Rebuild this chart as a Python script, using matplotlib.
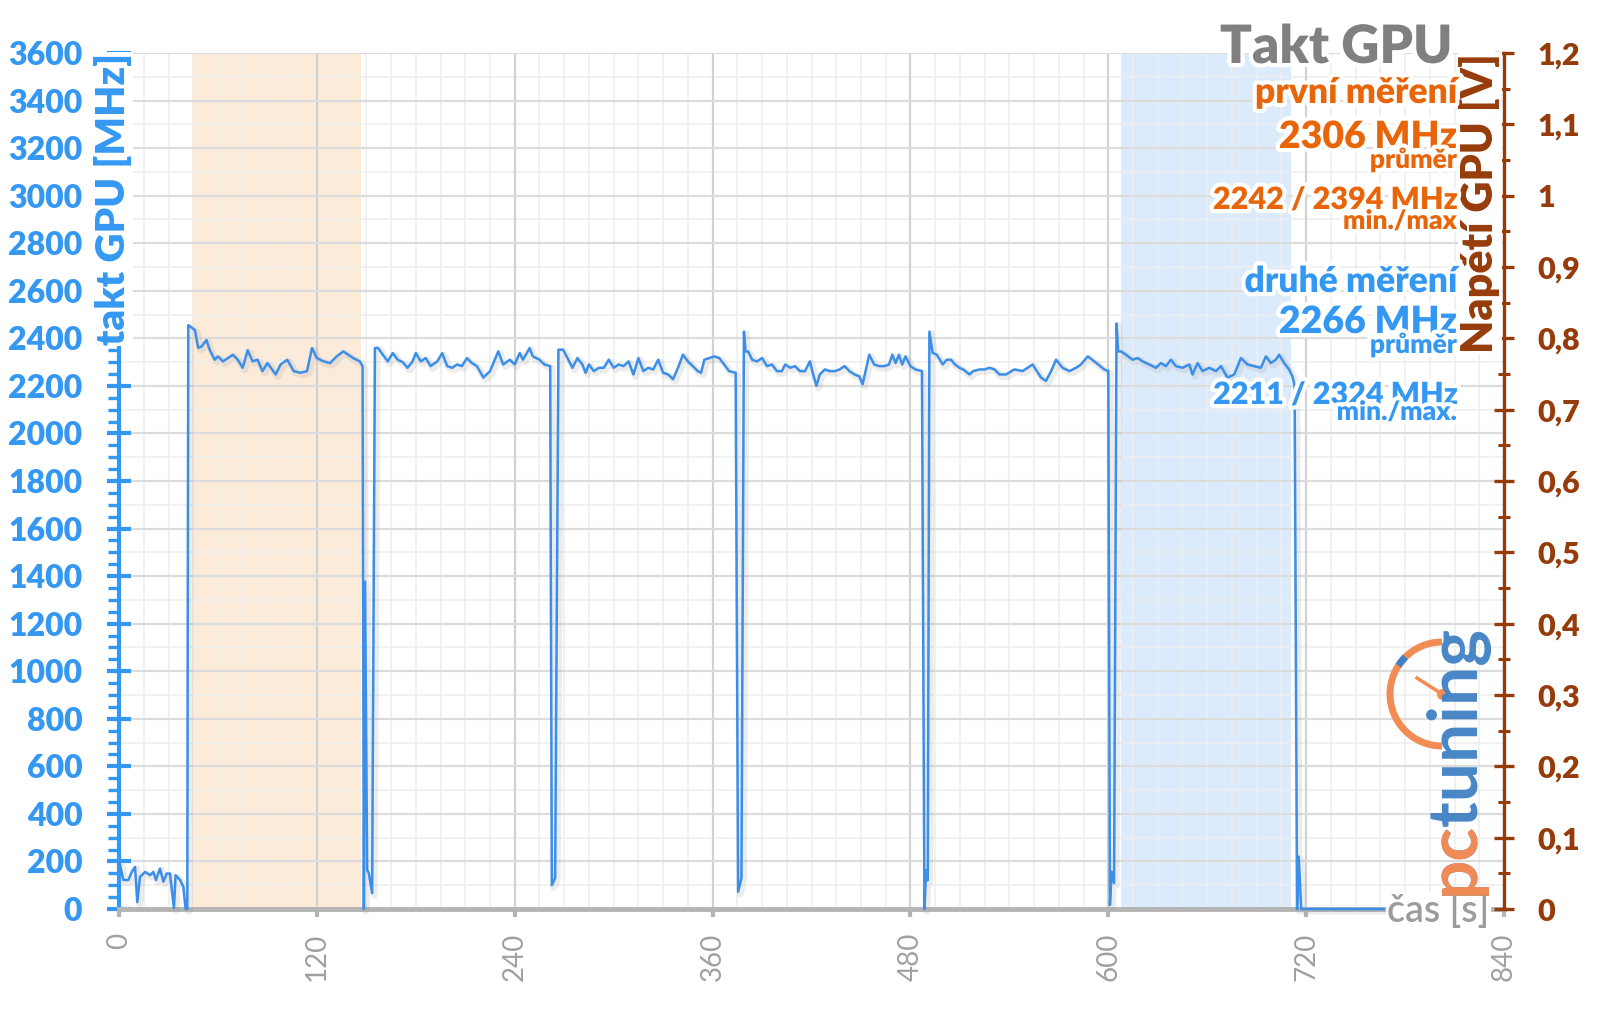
import numpy as np
import matplotlib
matplotlib.use("Agg")
import matplotlib.pyplot as plt
import matplotlib.patheffects as pe
from matplotlib.ticker import MultipleLocator, FuncFormatter
from matplotlib.patches import Arc
from matplotlib.lines import Line2D

plt.rcParams['font.family'] = ['Lato', 'DejaVu Sans']

# --- data (time in s, GPU clock in MHz) ---
idle_t = [0, 0.6, 2.6, 5.7, 7.7, 9.7, 11.1, 12.7, 15.8, 18.8, 20.8, 22.4, 24.8, 26.9,
          28.9, 30.9, 33.3, 34.3, 37, 39, 40.4, 41.4]
idle_mhz = [190, 185, 122, 122, 156, 177, 29, 135, 156, 142, 156, 122, 170, 115,
            149, 149, 4, 142, 122, 94, 0, 0]

run1_t = [42, 43, 46, 48, 50, 53, 55, 58, 60, 63, 66, 69, 72, 75, 78, 81, 84, 87, 90, 95,
          98, 102, 106, 110, 114, 117, 120, 124, 128, 132, 136, 139, 142, 146, 147.7]
run1_mhz = [2455, 2450, 2435, 2360, 2365, 2393, 2352, 2310, 2324, 2303, 2317, 2331, 2310,
            2276, 2350, 2303, 2310, 2262, 2296, 2248, 2290, 2310, 2262, 2255, 2262, 2359,
            2317, 2303, 2296, 2324, 2345, 2331, 2317, 2303, 2283]

dip1_t = [148.5, 149.2, 150.5, 151.5, 153.5]
dip1_mhz = [0, 1376, 164, 150, 67]

run2_t = [155.2, 157, 160, 163, 166, 169, 172, 175, 178, 180, 183, 186, 189, 193, 196, 199,
          202, 205, 208, 211, 214, 217, 221, 225, 230, 233, 237, 240, 243, 245, 249, 251,
          255, 258, 261.5]
run2_mhz = [2359, 2360, 2331, 2303, 2338, 2310, 2300, 2276, 2303, 2338, 2303, 2317, 2283,
            2303, 2338, 2283, 2276, 2290, 2283, 2317, 2296, 2283, 2235, 2262, 2345, 2290,
            2310, 2290, 2338, 2310, 2359, 2324, 2310, 2290, 2283]

dip2_t = [262.5, 264.5]
dip2_mhz = [100, 130]

run3_t = [266.5, 269.3, 272, 275, 278, 281, 283, 285, 288, 291, 294, 297, 300, 303, 306, 309,
          312, 315, 318, 321, 324, 327, 330, 333, 336, 339, 342, 345, 348, 351, 353, 355,
          358, 361, 364, 367, 370, 374]
run3_mhz = [2352, 2352, 2317, 2276, 2317, 2290, 2255, 2290, 2262, 2276, 2276, 2310, 2276,
            2290, 2283, 2303, 2248, 2317, 2262, 2276, 2269, 2310, 2255, 2248, 2228, 2276,
            2331, 2303, 2283, 2262, 2255, 2310, 2317, 2324, 2317, 2290, 2262, 2255]

dip3_t = [375.5, 377.5]
dip3_mhz = [73, 130]

run4_t = [379, 380, 381.5, 384, 387, 390, 393, 396, 399, 402, 404, 407, 410, 413, 416, 419,
          421, 423, 425, 428, 431, 434, 437, 440, 443, 446, 449, 451, 453, 455, 458, 461,
          464, 467, 469, 471, 473, 475, 477, 480, 483, 487]
run4_mhz = [2428, 2345, 2345, 2310, 2303, 2317, 2283, 2290, 2262, 2262, 2290, 2276, 2283,
            2262, 2262, 2303, 2248, 2200, 2248, 2269, 2262, 2262, 2269, 2283, 2262, 2248,
            2240, 2207, 2269, 2331, 2290, 2283, 2283, 2290, 2331, 2296, 2331, 2290, 2324,
            2283, 2269, 2262]

dip4_t = [488.5, 489.5, 490.5]
dip4_mhz = [0, 164, 120]

run5_t = [491.5, 493.5, 496, 499.6, 502, 504.6, 507, 509.7, 512, 515.8, 518, 521.8, 525,
          527.9, 531, 533.9, 538, 543, 548, 551, 554.1, 559.2, 562.2, 565.3, 568.3, 572.3,
          576.4, 580.4, 583.4, 587.5, 591.5, 597.6, 600]
run5_mhz = [2428, 2338, 2331, 2290, 2310, 2310, 2290, 2276, 2269, 2248, 2262, 2269, 2269,
            2276, 2269, 2248, 2248, 2269, 2262, 2276, 2290, 2235, 2221, 2262, 2310, 2276,
            2262, 2276, 2290, 2324, 2303, 2269, 2262]

dip5_t = [601, 602, 603.5]
dip5_mhz = [17, 157, 109]

run6_t = [605, 606, 607.7, 610.7, 614.7, 617.8, 620.8, 624.8, 628.9, 631.9, 634.9, 638, 641,
          645, 649.1, 651.1, 654.1, 657.2, 661.2, 665.3, 668.3, 672.3, 676.4, 680.4, 684.4,
          688.5, 692.5, 695.6, 698.6, 701.6, 703.6, 706.7, 709.7, 711.7, 713]
run6_mhz = [2462, 2345, 2345, 2331, 2310, 2317, 2303, 2290, 2276, 2296, 2283, 2310, 2283,
            2276, 2290, 2248, 2296, 2262, 2276, 2262, 2283, 2235, 2248, 2317, 2290, 2283,
            2276, 2324, 2296, 2310, 2331, 2296, 2269, 2240, 2200]

tail_t = [714.5, 715.5, 717, 767]
tail_mhz = [0, 220, 0, 0]

time_s = np.concatenate([idle_t, run1_t, dip1_t, run2_t, dip2_t, run3_t, dip3_t,
                         run4_t, dip4_t, run5_t, dip5_t, run6_t, tail_t])
clock_mhz = np.concatenate([idle_mhz, run1_mhz, dip1_mhz, run2_mhz, dip2_mhz, run3_mhz,
                            dip3_mhz, run4_mhz, dip4_mhz, run5_mhz, dip5_mhz, run6_mhz,
                            tail_mhz])

first_window = (44, 147)
second_window = (608, 711)
first_stats = (2306, 2242, 2394)   # avg, min, max
second_stats = (2266, 2211, 2324)

BLUE = '#3498F2'
LINE = '#3B8FE8'
ORANGE = '#E8650A'
BROWN = '#963C0A'
GRAY = '#A0A0A0'
HEAVY = 'heavy'

fig = plt.figure(figsize=(16, 10.09), dpi=100)
ax = fig.add_axes([0.0744, 0.0991, 0.8656, 0.8484])
ax2 = ax.twinx()

ax.set_xlim(0, 840)
ax.set_ylim(0, 3600)
ax2.set_ylim(0, 1.2)

# shaded measuring windows
ax.axvspan(*first_window, color='#FDEBDA', zorder=0.3, lw=0)
ax.axvspan(*second_window, color='#DCEBFB', zorder=0.3, lw=0)

# grid
ax.set_axisbelow(True)
ax.xaxis.set_major_locator(MultipleLocator(120))
ax.xaxis.set_minor_locator(MultipleLocator(15))
ax.yaxis.set_major_locator(MultipleLocator(200))
ax.yaxis.set_minor_locator(MultipleLocator(50))
ax.grid(which='major', axis='y', color='#DCDCDC', lw=1.6, zorder=0.5)
ax.grid(which='major', axis='x', color='#D2D2D2', lw=1.6, zorder=0.5)
ax.grid(which='minor', axis='x', color='#EEEEEE', lw=1.1, zorder=0.45)
for yv in np.arange(100, 3600, 200):
    ax.axhline(yv, color='#EEEEEE', lw=1.1, zorder=0.45)

ax.plot(time_s, clock_mhz, color=LINE, lw=1.8, zorder=3, clip_on=False,
        path_effects=[pe.SimpleLineShadow(offset=(1.5, -1.5), shadow_color='#9a9a9a',
                                          alpha=0.18, linewidth=5), pe.Normal()])

# spines
for s in ['top', 'right']:
    ax.spines[s].set_visible(False)
for s in ['top', 'left', 'bottom']:
    ax2.spines[s].set_visible(False)
ax.spines['left'].set_color(BLUE)
ax.spines['left'].set_linewidth(3)
ax.spines['bottom'].set_color('#B4B4B4')
ax.spines['bottom'].set_linewidth(3.5)
ax2.spines['right'].set_color(BROWN)
ax2.spines['right'].set_linewidth(2.4)

# left axis ticks
ax.tick_params(axis='y', which='major', direction='inout', length=17, width=3,
               color=BLUE, labelcolor=BLUE, labelsize=23, pad=18)
ax.tick_params(axis='y', which='minor', direction='out', length=8, width=2.4, color=BLUE)
for lab in ax.get_yticklabels():
    lab.set_fontweight(HEAVY)

# bottom axis ticks
ax.tick_params(axis='x', which='major', direction='out', length=6, width=3,
               color='#B4B4B4', labelcolor=GRAY, labelsize=20, pad=11, labelrotation=90)
ax.tick_params(axis='x', which='minor', length=0)

# right axis ticks
ax2.yaxis.set_major_locator(MultipleLocator(0.1))
ax2.yaxis.set_minor_locator(MultipleLocator(0.05))


def cz_fmt(v, pos):
    s = f"{v:.1f}".replace('.', ',')
    return s[:-2] if s.endswith(',0') else s


ax2.yaxis.set_major_formatter(FuncFormatter(cz_fmt))
ax2.tick_params(axis='y', which='major', direction='inout', length=14, width=2.4,
                color=BROWN, labelcolor=BROWN, labelsize=22, pad=17)
ax2.tick_params(axis='y', which='minor', direction='inout', length=9, width=2.2, color=BROWN)
for lab in ax2.get_yticklabels():
    lab.set_fontweight(HEAVY)

# axis titles (white boxes over spine / grid)
fig.text(0.0706, 0.9475, 'takt GPU [MHz]', rotation=90, ha='center', va='top',
         color=BLUE, fontsize=29, fontweight=HEAVY,
         bbox=dict(fc='white', ec='none', pad=1))
fig.text(0.925, 0.9475, 'Napětí GPU [V]', rotation=90, ha='center', va='top',
         color=BROWN, fontsize=31, fontweight=HEAVY,
         bbox=dict(fc='white', ec='none', pad=1))
fig.text(0.931, 0.097, 'čas [s]', ha='right', va='center', color='#9C9C9C', fontsize=27,
         fontweight='semibold', bbox=dict(fc='white', ec='none', pad=1))

# info block
glow = [pe.withStroke(linewidth=6, foreground='white')]
xr = 0.9106
fig.text(xr - 0.003, 1 - 63 / 1009, 'Takt GPU', ha='right', va='baseline', color='#808080',
         fontsize=38, fontweight=HEAVY, path_effects=glow)
lines = [
    (103, 'první měření', ORANGE, 25.5),
    (148, f'{first_stats[0]} MHz', ORANGE, 27),
    (168, 'průměr', ORANGE, 19),
    (209, f'{first_stats[1]} / {first_stats[2]} MHz', ORANGE, 22),
    (229, 'min./max', ORANGE, 19),
    (292, 'druhé měření', BLUE, 25.5),
    (333, f'{second_stats[0]} MHz', BLUE, 27),
    (353, 'průměr', BLUE, 19),
    (404, f'{second_stats[1]} / {second_stats[2]} MHz', BLUE, 22),
    (420, 'min./max.', BLUE, 19),
]
for ypx, txt, col, fs in lines:
    fig.text(xr, 1 - ypx / 1009, txt, ha='right', va='baseline', color=col,
             fontsize=fs, fontweight=HEAVY, path_effects=glow)

# pctuning watermark
logo_x, logo_y = 1474 / 1600, 1 - 895 / 1009
fig.text(logo_x, logo_y, 'pctuning', rotation=90, rotation_mode='anchor', ha='left',
         va='baseline', color='#3E80C4', fontsize=50, fontweight='bold', alpha=0.95)
fig.text(logo_x, logo_y, 'pc', rotation=90, rotation_mode='anchor', ha='left',
         va='baseline', color='#F28C55', fontsize=50, fontweight='bold')
cx, cy = 1442 / 1600, 1 - 694 / 1009
fig.add_artist(Arc((cx, cy), 104 / 1600, 104 / 1009, theta1=90, theta2=270,
                   transform=fig.transFigure, color='#F28C55', lw=5))
fig.add_artist(Arc((cx, cy), 104 / 1600, 104 / 1009, theta1=122, theta2=134,
                   transform=fig.transFigure, color='#3E80C4', lw=5))
fig.add_artist(Line2D([1417 / 1600, cx], [1 - 678 / 1009, cy], transform=fig.transFigure,
                      color='#F28C55', lw=2.5))
fig.add_artist(Line2D([cx], [cy], transform=fig.transFigure, marker='o', ms=7,
                      color='#F28C55'))

fig.savefig('out.png', dpi=100)
